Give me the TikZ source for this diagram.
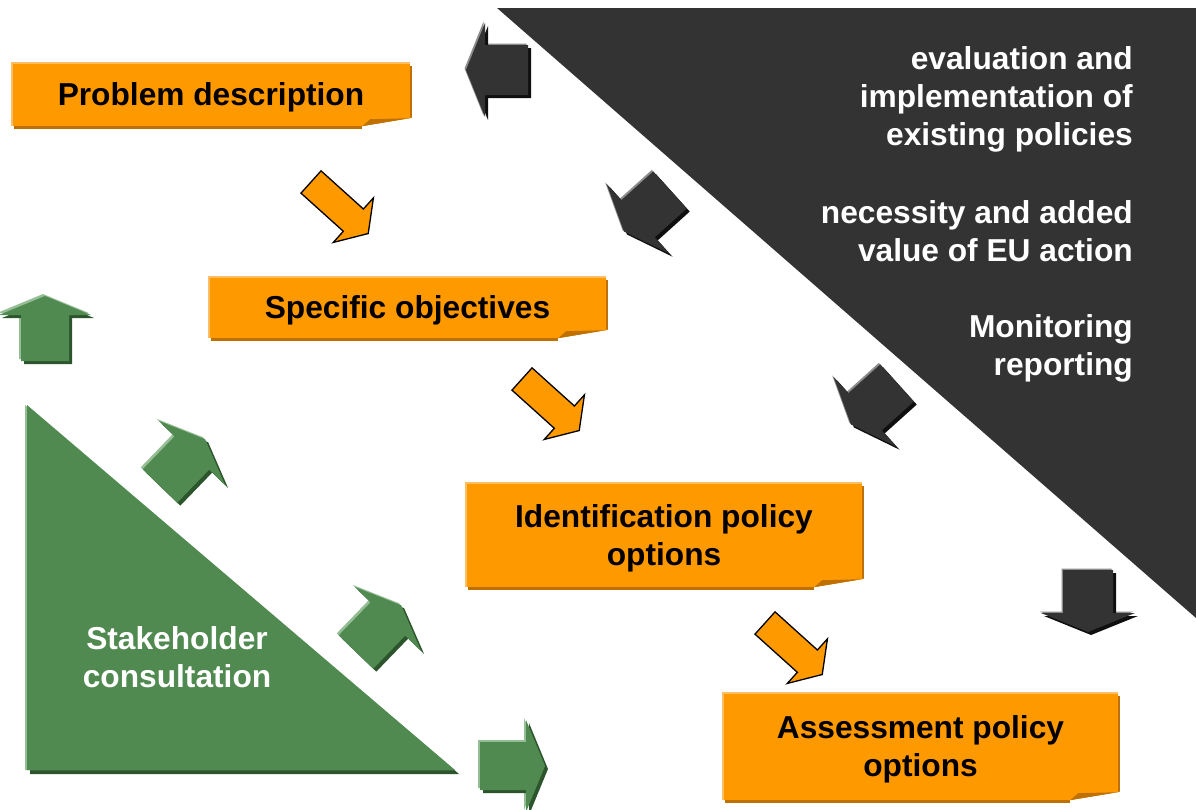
\documentclass[tikz,border=0pt]{standalone}
\usepackage{fontspec}
\setmainfont{Liberation Sans}
\usetikzlibrary{shadows}

\definecolor{boxorange}{RGB}{255,153,0}
\definecolor{boxshade}{RGB}{190,112,0}
\definecolor{boxlight}{RGB}{255,190,100}
\definecolor{greenfill}{RGB}{80,138,80}
\definecolor{greenshade}{RGB}{45,85,45}
\definecolor{greenlight}{RGB}{150,190,150}
\definecolor{darkfill}{RGB}{51,51,51}
\definecolor{darkshade}{RGB}{15,15,15}
\definecolor{darklight}{RGB}{140,140,140}

% block arrow, tail at origin, pointing along +x: body half width, body length, head half width, head length
\newcommand{\arrowshape}[4]{(0,-#1) -- (#2,-#1) -- (#2,-#3) -- ({#2+#4},0) -- (#2,#3) -- (#2,#1) -- (0,#1) -- cycle}

\tikzset{
  stepbox/.style={fill=boxorange, font=\bfseries\fontsize{31.7}{38}\selectfont, align=center, inner sep=0pt,
    text depth=0pt, drop shadow={shadow xshift=2pt, shadow yshift=-3pt, fill=boxshade, opacity=1}},
  wtext/.style={text=white, font=\bfseries\fontsize{31.7}{38}\selectfont, inner sep=0pt},
}

\begin{document}
\begin{tikzpicture}[x=1pt, y=-1pt]
\useasboundingbox (0,0) rectangle (1196,809);

% the two triangles
\fill[darkfill] (497,8) -- (1196,8) -- (1196,618) -- cycle;
\fill[greenshade] (30,409) -- (30,774) -- (459,774) -- cycle;
\fill[greenlight] (25,405) -- (25,770) -- (453,770) -- cycle;
\fill[greenfill] (27,405) -- (27,770) -- (455,770) -- cycle;

% dark arrows
\foreach \x/\y/\a in {528/70/180, 670/190/-138, 897/383/-138, 1088/570/-90} {
  \fill[darklight, shift={(\x,\y)}, xshift=-1.5pt, yshift=1.5pt, rotate=\a] \arrowshape{25}{43}{47}{19};
  \fill[darkshade, shift={(\x,\y)}, xshift=3pt, yshift=-3pt, rotate=\a] \arrowshape{25}{43}{47}{19};
  \fill[darkfill, shift={(\x,\y)}, rotate=\a] \arrowshape{25}{43}{47}{19};
}

% green arrows
\foreach \x/\y/\a in {45/361/90, 160/486/46, 356/652/46, 480/766/0} {
  \fill[greenlight, shift={(\x,\y)}, xshift=-2pt, yshift=2pt, rotate=\a] \arrowshape{24}{46}{46}{19};
  \fill[greenshade, shift={(\x,\y)}, xshift=3pt, yshift=-3pt, rotate=\a] \arrowshape{24}{46}{46}{19};
  \fill[greenfill, shift={(\x,\y)}, rotate=\a] \arrowshape{24}{46}{46}{19};
}

% orange arrows
\foreach \x/\y in {311/182, 522/379, 765/623}
  \filldraw[fill=boxorange, draw=black, line width=1.3pt, shift={(\x,\y)}, rotate=-42] \arrowshape{15}{57}{30}{20};

% boxes
\node[stepbox, minimum width=398pt, minimum height=63pt] (prob) at (211,94.5) {Problem description};
\node[stepbox, minimum width=397pt, minimum height=61pt] (spec) at (407.5,307.5) {Specific objectives};
\node[stepbox, minimum width=396pt, minimum height=104pt] (ident) at (664,535) {Identification policy\\options};
\node[stepbox, minimum width=395pt, minimum height=107pt] (assess) at (920.5,746.5) {Assessment policy\\options};

\foreach \n in {prob,spec,ident,assess} {
  \draw[boxlight, line width=1.5pt] (\n.south west) -- (\n.north west) -- (\n.north east);
  \fill[white] (\n.south east) ++(-48,0) -- ++(0,6) -- ++(54,0) -- ++(0,-16) -- ++(-6,2) -- cycle;
  \fill[boxshade] (\n.south east) ++(-48,0) -- ++(8,-7) -- ++(40,-1) -- cycle;
}

% texts
\node[wtext, align=right, anchor=east] (eval) at (1133,99) {evaluation and\\implementation of\\existing policies};
\node[wtext, align=right, anchor=east] (need) at (1133,231) {necessity and added\\value of EU action};
\node[wtext, align=right, anchor=east] (monit) at (1133,348) {Monitoring\\reporting};
\node[wtext, align=center] (stake) at (177,657) {Stakeholder\\consultation};
\end{tikzpicture}
\end{document}
